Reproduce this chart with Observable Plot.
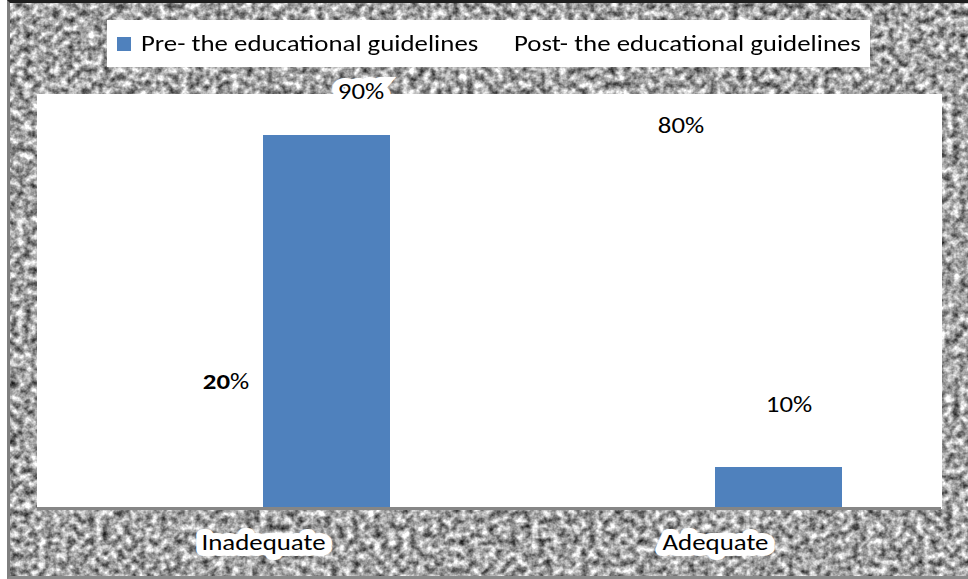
<!DOCTYPE html>
<html>
<head>
<meta charset="utf-8">
<script src="https://cdn.jsdelivr.net/npm/d3@7"></script>
<script src="https://cdn.jsdelivr.net/npm/@observablehq/plot@0.6"></script>
<style>
  html, body { margin: 0; padding: 0; background: #ffffff; }
  #wrap { position: relative; width: 968px; height: 579px; overflow: hidden; font-family: Carlito, Calibri, "Open Sans", sans-serif; }
  #texture { position: absolute; left: 7px; top: 0; width: 961px; height: 579px; box-sizing: border-box;
    border-left: 3px solid #7f7f7f; border-top: 3px solid #1e1e1e; border-bottom: 3px solid #8a8a8a; }
  #chart { position: absolute; left: 0; top: 0; }
  #legend { position: absolute; left: 107px; top: 20px; width: 763px; height: 47px; background: #ffffff;
    display: flex; align-items: center; font-size: 22px; color: #000; }
  #legend .item { display: flex; align-items: center; }
  #legend .item:first-child { width: 373px; }
  #legend .sw { width: 14px; height: 14px; margin-left: 10px; margin-right: 10px; flex: none; }
  #legend .tx { display: inline-block; white-space: nowrap; transform: scaleX(1.22); transform-origin: left center; }
</style>
</head>
<body>
<div id="wrap">
  <div id="texture"></div>
  <div id="chart"></div>
  <div id="legend"></div>
</div>
<script>
// ---- data ----
const categories = ["Inadequate", "Adequate"];
const seriesNames = ["Pre- the educational guidelines", "Post- the educational guidelines"];
const preValues = [90, 10];
const postValues = [20, 80];
const seriesColors = ["#4f81bd", "#ffffff"];

const rows = [];
categories.forEach((c, i) => {
  rows.push({category: c, series: seriesNames[0], value: preValues[i]});
  rows.push({category: c, series: seriesNames[1], value: postValues[i]});
});

// ---- texture background ----
const tex = `<svg xmlns="http://www.w3.org/2000/svg" width="961" height="579">
<filter id="n" x="0" y="0" width="100%" height="100%" color-interpolation-filters="sRGB">
<feTurbulence type="fractalNoise" baseFrequency="0.14" numOctaves="3" seed="11"/>
<feColorMatrix type="matrix" values="1 0 0 0 0 1 0 0 0 0 1 0 0 0 0 0 0 0 0 1"/>
<feComponentTransfer>
<feFuncR type="linear" slope="1.3" intercept="-0.01"/>
<feFuncG type="linear" slope="1.3" intercept="-0.01"/>
<feFuncB type="linear" slope="1.3" intercept="-0.01"/>
</feComponentTransfer>
</filter>
<rect width="100%" height="100%" filter="url(#n)"/>
</svg>`;
document.getElementById("texture").style.backgroundImage = `url("data:image/svg+xml,${encodeURIComponent(tex)}")`;

// ---- chart ----
const font = "Carlito, Calibri, 'Open Sans', sans-serif";
const pick = (s, c) => d => d.series === s && d.category === c;
const pct = d => `${d.value}%`;
const lab = (s, c, dx, dy, extra = {}) => Plot.text(rows, {
  filter: pick(s, c), fx: "category", x: "series", y: "value", text: pct,
  dx, dy, fontSize: 22, fill: "#000", ...extra
});

const chart = Plot.plot({
  width: 968,
  height: 579,
  marginLeft: 37,
  marginRight: 27,
  marginTop: 93,
  marginBottom: 71,
  style: {background: "transparent", fontFamily: font},
  fx: {domain: categories, padding: 0, label: null},
  x: {type: "band", domain: [seriesNames[1], seriesNames[0]], paddingInner: 0, paddingOuter: 0.766, axis: null},
  y: {domain: [0, 100], axis: null},
  color: {domain: seriesNames, range: seriesColors},
  marks: [
    Plot.frame({fill: "white", stroke: null, insetLeft: -0.5, insetRight: -0.5, shapeRendering: "crispEdges"}),
    Plot.barY(rows, {fx: "category", x: "series", y: "value", fill: "series", inset: 0, shapeRendering: "crispEdges"}),
    Plot.ruleY([0], {stroke: "#868686", strokeWidth: 3}),
    Plot.axisFx({anchor: "bottom", tickSize: 0, tickPadding: 26, fontSize: 22, label: null,
      textStroke: "white", textStrokeWidth: 12, textStrokeLinejoin: "miter"}),
    lab(seriesNames[0], "Inadequate", 34, -43, {stroke: "white", strokeWidth: 12, strokeLinejoin: "miter"}),
    lab(seriesNames[0], "Adequate", 10, -62),
    lab(seriesNames[1], "Inadequate", 26, -44),
    lab(seriesNames[1], "Adequate", 29, -51)
  ]
});
document.getElementById("chart").appendChild(chart);

// bold digits in "20%" as in the reference
d3.select(chart).selectAll("text").filter(function() { return this.textContent === "20%"; })
  .each(function() {
    const t = d3.select(this);
    t.text(null);
    t.append("tspan").attr("font-weight", "bold").text("20");
    t.append("tspan").text("%");
  });

// the reference's lettering is horizontally wider: stretch glyphs
d3.select(chart).selectAll("text").each(function() {
  const len = this.getComputedTextLength();
  if (len > 0) {
    this.setAttribute("textLength", (len * 1.22).toFixed(1));
    this.setAttribute("lengthAdjust", "spacingAndGlyphs");
  }
});

// ---- legend built from the plot's color scale ----
const cs = chart.scale("color");
const legend = document.getElementById("legend");
cs.domain.forEach((name, i) => {
  const item = document.createElement("div");
  item.className = "item";
  const sw = document.createElement("span");
  sw.className = "sw";
  sw.style.background = cs.range[i];
  const tx = document.createElement("span");
  tx.className = "tx";
  tx.textContent = name;
  item.appendChild(sw);
  item.appendChild(tx);
  legend.appendChild(item);
});
</script>
</body>
</html>
